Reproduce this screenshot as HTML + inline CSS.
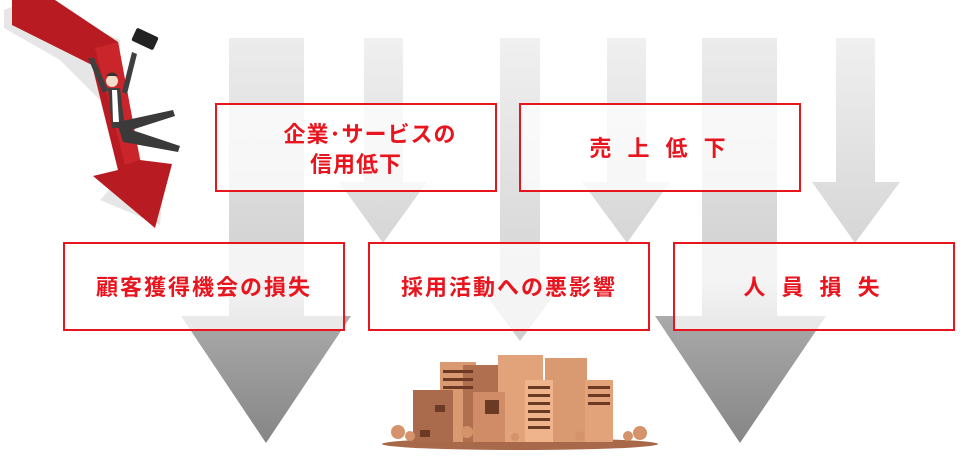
<!DOCTYPE html>
<html><head><meta charset="utf-8"><style>
body{margin:0;width:960px;height:468px;background:#fff;overflow:hidden;font-family:"Liberation Sans","Noto Sans CJK JP",sans-serif;}
</style></head><body>
<svg width="960" height="468" viewBox="0 0 960 468" xmlns="http://www.w3.org/2000/svg">
<defs>
<linearGradient id="gb" x1="0" y1="38" x2="0" y2="443" gradientUnits="userSpaceOnUse">
<stop offset="0" stop-color="#ececec"/><stop offset="0.6" stop-color="#d0d0d0"/><stop offset="0.7" stop-color="#a8a8a8"/><stop offset="1" stop-color="#868686"/></linearGradient>
<linearGradient id="gs" x1="0" y1="38" x2="0" y2="243" gradientUnits="userSpaceOnUse">
<stop offset="0" stop-color="#f0f0f0"/><stop offset="1" stop-color="#d6d6d6"/></linearGradient>
<linearGradient id="gm" x1="0" y1="38" x2="0" y2="340" gradientUnits="userSpaceOnUse">
<stop offset="0" stop-color="#f0f0f0"/><stop offset="1" stop-color="#cfcfcf"/></linearGradient>
</defs>
<polygon points="229,38 304,38 304,316 351,316 266,443 181,316 229,316" fill="url(#gb)"/>
<polygon points="702,38 777,38 777,316 826,316 740,443 655,316 702,316" fill="url(#gb)"/>
<polygon points="364,38 403,38 403,182 427,182 383,243 339,182 364,182" fill="url(#gs)"/>
<polygon points="607,38 646,38 646,182 670,182 627,243 582,182 607,182" fill="url(#gs)"/>
<polygon points="836,38 875,38 875,182 900,182 855,243 812,182 836,182" fill="url(#gs)"/>
<polygon points="500,38 540,38 540,282 564,282 520,341 476,282 500,282" fill="url(#gm)"/>
<polygon points="4,10 30,0 120,40 120,90 145,170 165,170 160,225 100,200 120,178 100,100 60,60 4,28" fill="#e6e6e6"/>
<polygon points="12,0 55,0 118,42 140,160 172,164 155,228 93,176 118,170 92,65 12,25" fill="#b81c22"/>
<polygon points="95,48 118,42 140,160 125,165" fill="#c9252b"/>
<rect x="133" y="32" width="24" height="14" rx="2" fill="#222" transform="rotate(25 145 39)"/>
<circle cx="112" cy="81" r="6" fill="#f3dcc8"/>
<path d="M106,76 q6,-7 12,0" fill="#333"/>
<path d="M108,88 l12,0 l5,40 l-13,0z" fill="#3f3f3f"/>
<path d="M112,90 l5,0 l2,32 l-6,0z" fill="#fff"/>
<path d="M88,58 l6,0 l14,32 l-5,3z" fill="#3f3f3f"/>
<path d="M132,52 l5,2 l-10,40 l-5,-2z" fill="#3f3f3f"/>
<path d="M118,122 l55,-12 l2,6 l-50,16z" fill="#3a3a3a"/>
<path d="M118,126 l20,6 l42,14 l-2,6 l-55,-10z" fill="#3a3a3a"/>
<g fill="rgba(255,255,255,0.75)" stroke="#e8141e" stroke-width="2">
<rect x="216" y="104" width="280" height="87"/>
<rect x="520" y="104" width="280" height="87"/>
<rect x="64" y="243" width="280" height="87"/>
<rect x="369" y="243" width="280" height="87"/>
<rect x="674" y="243" width="280" height="87"/>
</g>
<g fill="#e8141e" font-family="'Liberation Sans','Noto Sans CJK JP',sans-serif" font-weight="bold" font-size="22" text-anchor="middle">
<text x="370" y="142" letter-spacing="1">企業･サービスの</text>
<text x="356" y="172" letter-spacing="1">信用低下</text>
<text x="660" y="156" letter-spacing="5">売 上 低 下</text>
<text x="204" y="295" letter-spacing="2">顧客獲得機会の損失</text>
<text x="509" y="295" letter-spacing="2">採用活動への悪影響</text>
<text x="814" y="295" letter-spacing="5">人 員 損 失</text>
</g>
<ellipse cx="520" cy="444" rx="138" ry="6" fill="#a8694a"/>
<rect x="440" y="362" width="36" height="80" fill="#d99a72"/>
<rect x="463" y="365" width="35" height="77" fill="#b07050"/>
<rect x="498" y="355" width="45" height="87" fill="#e2a27a"/>
<rect x="545" y="358" width="42" height="84" fill="#d99a72"/>
<rect x="585" y="380" width="28" height="62" fill="#e2a27a"/>
<rect x="413" y="390" width="40" height="52" fill="#a96b4c"/>
<rect x="473" y="392" width="32" height="50" fill="#d08c66"/>
<rect x="525" y="380" width="28" height="62" fill="#f0b48c"/>
<g fill="#6b3a25">
<rect x="443" y="370" width="30" height="3"/><rect x="443" y="378" width="30" height="3"/><rect x="443" y="386" width="30" height="3"/>
<rect x="528" y="386" width="22" height="3"/><rect x="528" y="394" width="22" height="3"/><rect x="528" y="402" width="22" height="3"/><rect x="528" y="410" width="22" height="3"/><rect x="528" y="418" width="22" height="3"/><rect x="528" y="426" width="22" height="3"/>
<rect x="588" y="386" width="22" height="3"/><rect x="588" y="394" width="22" height="3"/><rect x="588" y="402" width="22" height="3"/>
<rect x="435" y="405" width="10" height="7"/><rect x="420" y="430" width="10" height="7"/><rect x="485" y="400" width="14" height="14"/>
</g>
<g fill="#d4936b">
<circle cx="398" cy="432" r="7"/><circle cx="410" cy="436" r="5"/><circle cx="467" cy="432" r="6"/><circle cx="640" cy="433" r="7"/><circle cx="628" cy="436" r="5"/><circle cx="580" cy="436" r="5"/><circle cx="515" cy="437" r="4"/>
</g>
</svg>
</body></html>
